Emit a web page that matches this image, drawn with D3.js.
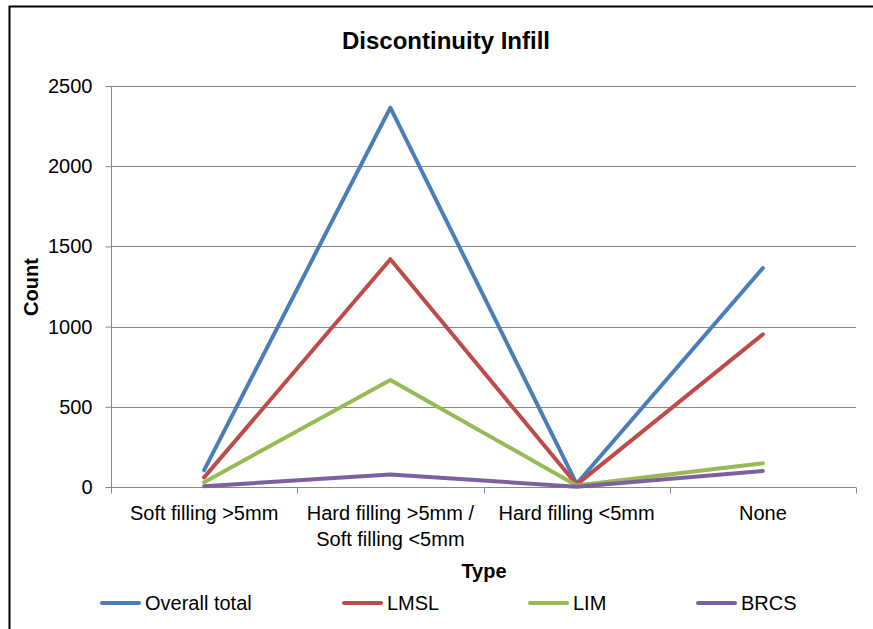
<!DOCTYPE html>
<html><head><meta charset="utf-8">
<script src="https://cdn.jsdelivr.net/npm/d3@7"></script>
<style>body{margin:0;background:#fff;}svg{display:block;font-family:"Liberation Sans",Arial,sans-serif;}</style>
</head><body>
<svg id="c" width="873" height="629"></svg>
<script>
const categories = [["Soft filling >5mm"], ["Hard filling >5mm /", "Soft filling <5mm"], ["Hard filling <5mm"], ["None"]];
const seriesNames = ["Overall total", "LMSL", "LIM", "BRCS"];
const seriesColors = ["#4a7ebb", "#be4b48", "#98b954", "#7d60a0"];
const overallTotal = [105, 2365, 20, 1365];
const lmsl = [60, 1420, 15, 952];
const lim = [30, 667, 10, 148];
const brcs = [5, 78, 2, 100];
const yTicks = [0, 500, 1000, 1500, 2000, 2500];
const seriesValues = [overallTotal, lmsl, lim, brcs];

(function(){
const FONT = "Liberation Sans, Arial, sans-serif";
const svg = d3.select("#c");
// outer border
svg.append("path").attr("d", "M9.5,640 V6.5 H880").attr("fill", "none").attr("stroke", "#000").attr("stroke-width", 2);

const pLeft = 111, pRight = 856, pTop = 86, pBottom = 487;
const x = d3.scaleBand().domain(d3.range(categories.length)).range([pLeft, pRight]);
const y = d3.scaleLinear().domain([0, 2500]).range([pBottom, pTop]);

// gridlines
svg.append("g").selectAll("line").data(yTicks.filter(d => d > 0)).join("line")
  .attr("x1", pLeft).attr("x2", pRight).attr("y1", d => Math.round(y(d)) + 0.5).attr("y2", d => Math.round(y(d)) + 0.5)
  .attr("stroke", "#868686").attr("stroke-width", 1);

// y axis
const ya = svg.append("g").attr("transform", `translate(${pLeft + 0.5},0)`)
  .call(d3.axisLeft(y).tickValues(yTicks).tickSize(6).tickPadding(13).tickFormat(d3.format("d")));
ya.select(".domain").attr("stroke", "#868686").attr("d", `M0,${y(0)}V${y(2500)}`);
ya.selectAll(".tick line").attr("stroke", "#868686");
ya.selectAll(".tick text").attr("font-size", 20).attr("fill", "#000").attr("font-family", FONT);

// x axis
const xa = svg.append("g").attr("transform", `translate(0,${pBottom + 0.5})`);
xa.append("line").attr("x1", pLeft).attr("x2", pRight).attr("stroke", "#868686");
const boundaries = d3.range(categories.length + 1).map(i => i < categories.length ? x(i) : x(categories.length - 1) + x.bandwidth());
xa.selectAll("line.t").data(boundaries).join("line").attr("class", "t")
  .attr("x1", d => Math.round(d) + 0.5).attr("x2", d => Math.round(d) + 0.5).attr("y1", 0).attr("y2", 6).attr("stroke", "#868686");
categories.forEach((lines, i) => {
  const cx = x(i) + x.bandwidth() / 2;
  const t = xa.append("text").attr("text-anchor", "middle").attr("font-size", 20).attr("fill", "#000")
    .attr("font-family", FONT).attr("x", cx).attr("y", 32);
  lines.forEach((l, j) => t.append("tspan").attr("x", cx).attr("dy", j === 0 ? 0 : 26).text(l));
});

// lines
const line = d3.line().x((d, i) => x(i) + x.bandwidth() / 2).y(d => y(d));
seriesValues.forEach((vals, k) => {
  svg.append("path").datum(vals).attr("d", line).attr("fill", "none")
    .attr("stroke", seriesColors[k]).attr("stroke-width", 4).attr("stroke-linejoin", "round").attr("stroke-linecap", "round");
});

// title
svg.append("text").attr("x", 446).attr("y", 49).attr("text-anchor", "middle").attr("font-size", 24).attr("font-weight", "bold").attr("font-family", FONT).text("Discontinuity Infill");
// axis titles
svg.append("text").attr("x", 484).attr("y", 578).attr("text-anchor", "middle").attr("font-size", 20).attr("font-weight", "bold").attr("font-family", FONT).text("Type");
svg.append("text").attr("transform", "translate(38,287) rotate(-90)").attr("text-anchor", "middle").attr("font-size", 20).attr("font-weight", "bold").attr("font-family", FONT).text("Count");

// legend
const legendX = [100, 342, 528, 696];
seriesNames.forEach((n, k) => {
  const g = svg.append("g").attr("transform", `translate(${legendX[k]},603)`);
  g.append("line").attr("x1", 2).attr("x2", 39).attr("y1", 0).attr("y2", 0).attr("stroke", seriesColors[k]).attr("stroke-width", 4).attr("stroke-linecap", "round");
  g.append("text").attr("x", 45).attr("y", 7).attr("font-size", 20).attr("font-family", FONT).text(n);
});
})();
</script>
</body></html>
